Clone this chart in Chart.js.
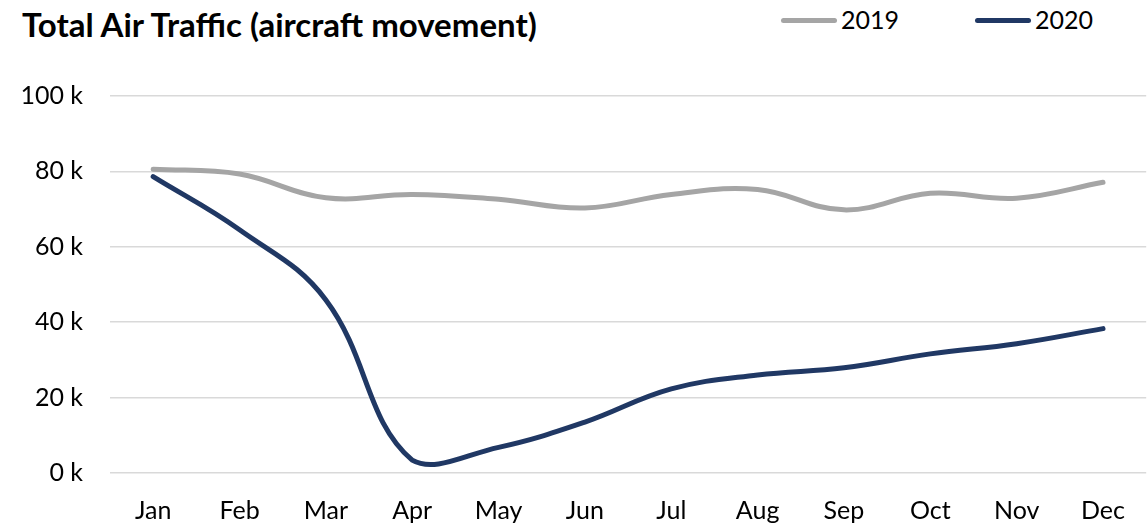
<!DOCTYPE html>
<html>
<head>
<meta charset="utf-8">
<script src="https://cdn.jsdelivr.net/npm/chart.js@4"></script>
<style>
  html, body { margin: 0; padding: 0; background: #fff; overflow: hidden; }
  body { width: 1148px; height: 527px; position: relative; font-family: Lato, sans-serif; }
  #title { position: absolute; left: 22px; top: 4px; font-size: 33px; font-weight: bold; color: #000; white-space: nowrap; }
  #legend { position: absolute; top: 4px; left: 781px; font-size: 25px; color: #000; }
  .item { position: absolute; top: 0; white-space: nowrap; }
  .swatch { display: inline-block; width: 56px; height: 5px; border-radius: 3px; vertical-align: middle; margin-right: 4px; position: relative; top: -2px; }
  canvas { position: absolute; left: 0; top: 0; }
</style>
</head>
<body>
<div id="title">Total Air Traffic (aircraft movement)</div>
<div id="legend"></div>
<canvas id="trafficChart" width="1148" height="527"></canvas>
<script>
const months = ["Jan","Feb","Mar","Apr","May","Jun","Jul","Aug","Sep","Oct","Nov","Dec"];
const traffic_2019 = [80600, 79300, 73000, 73900, 72600, 70300, 73900, 75200, 69800, 74200, 72900, 77100];
const traffic_2020 = [78600, 64500, 45900, 3400, 6800, 13500, 22300, 26000, 27900, 31600, 34300, 38300];
const series_labels = ["2019", "2020"];
const series_colors = ["#a5a5a5", "#203864"];
const y_ticks = [0, 20000, 40000, 60000, 80000, 100000];

const cvs = document.getElementById('trafficChart');

let chart = new Chart(cvs, {
    type: 'line',
    data: {
        labels: months,
        datasets: [traffic_2019, traffic_2020].map((d, i) => ({
            label: series_labels[i],
            data: d,
            borderColor: series_colors[i],
            backgroundColor: series_colors[i],
            borderWidth: 5,
            borderCapStyle: 'round',
            borderJoinStyle: 'round',
            pointRadius: 0,
            tension: 0.4,
            fill: false
        }))
    },
    options: {
        responsive: false,
        animation: false,
        layout: { padding: { top: 96, right: 0, left: 0, bottom: 0 } },
        plugins: {
            legend: { display: false },
            title: { display: false },
            tooltip: { enabled: false }
        },
        scales: {
            x: {
                offset: true,
                grid: { display: false, drawTicks: false },
                border: { display: false },
                ticks: { padding: 23, color: '#000', font: { family: 'Lato', size: 25 } },
                afterFit: (s) => { s.height = 54; }
            },
            y: {
                min: 0,
                max: 100000,
                afterBuildTicks: (s) => { s.ticks = y_ticks.map(v => ({ value: v })); },
                grid: { color: '#d9d9d9', lineWidth: 1.5, drawTicks: false },
                border: { display: false },
                ticks: {
                    padding: 27,
                    color: '#000',
                    font: { family: 'Lato', size: 25 },
                    callback: (v) => (v / 1000) + ' k'
                },
                afterFit: (s) => { s.width = 110; }
            }
        }
    }
});

// legend built from the same series
const legend = document.getElementById('legend');
const legendOffsets = [0, 194];
series_labels.forEach((lab, i) => {
    const el = document.createElement('div');
    el.className = 'item';
    el.style.left = legendOffsets[i] + 'px';
    el.innerHTML = '<span class="swatch" style="background:' + series_colors[i] + '"></span>' + lab;
    legend.appendChild(el);
});
</script>
</body>
</html>
